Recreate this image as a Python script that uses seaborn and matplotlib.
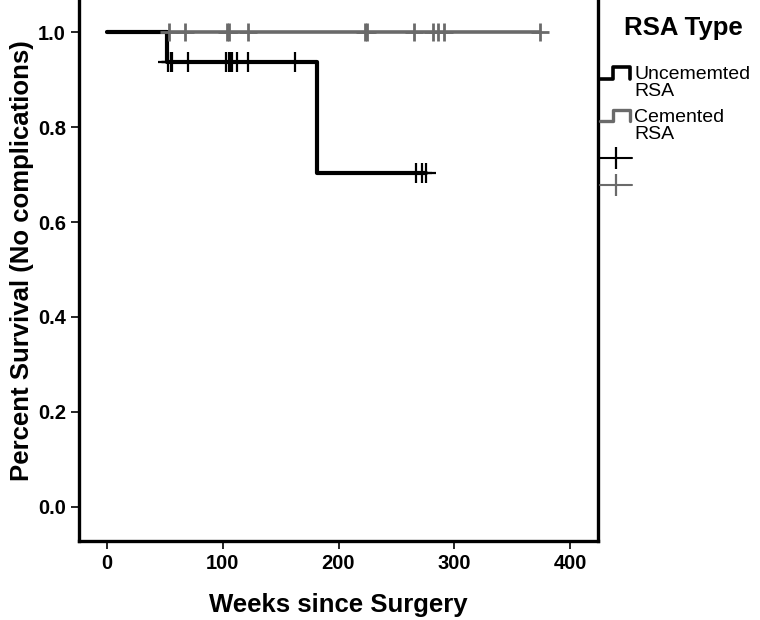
import numpy as np
import pandas as pd
import matplotlib
matplotlib.use("Agg")
import matplotlib.pyplot as plt
import seaborn as sns
from matplotlib.lines import Line2D
from matplotlib.legend_handler import HandlerBase

# Follow-up times (weeks)
uncemented_events = [52, 181]
uncemented_censored = [53, 55, 56.5, 70, 103, 105, 106.5, 108, 112, 122, 162, 267, 272, 276]
cemented_events = []
cemented_censored = [53.5, 67, 103.5, 105, 122, 223, 225, 265, 282, 286, 291, 374]

group_names = ["Uncememted\nRSA", "Cemented\nRSA"]
group_colors = {"Uncememted\nRSA": "#000000", "Cemented\nRSA": "#6a6a6a"}

x_ticks = [0, 100, 200, 300, 400]
y_ticks = [0.0, 0.2, 0.4, 0.6, 0.8, 1.0]


def kaplan_meier(events, censored, group):
    times = sorted(set(events) | set(censored))
    n = len(events) + len(censored)
    s = 1.0
    steps = [(0.0, 1.0)]
    marks = []
    for t in times:
        d = events.count(t)
        c = censored.count(t)
        if d:
            s *= (n - d) / n
            steps.append((t, s))
        for _ in range(c):
            marks.append((t, s))
        n -= d + c
    steps.append((times[-1], s))
    st = pd.DataFrame(steps, columns=["weeks", "survival"])
    st["group"] = group
    mk = pd.DataFrame(marks, columns=["weeks", "survival"])
    mk["group"] = group
    return st, mk


st1, mk1 = kaplan_meier(uncemented_events, uncemented_censored, group_names[0])
st2, mk2 = kaplan_meier(cemented_events, cemented_censored, group_names[1])

sns.set_style("white")
plt.rcParams["font.family"] = ["Liberation Sans", "DejaVu Sans"]
for k in ["text.color", "axes.labelcolor", "xtick.color", "ytick.color"]:
    plt.rcParams[k] = "black"

fig = plt.figure(figsize=(7.6, 6.2), dpi=100)
# top of the frame runs off the top of the image, as in the original
ax = fig.add_axes([79 / 760, 79 / 620, 519 / 760, 560 / 620])

# gray curve first, black on top
sns.lineplot(data=st2, x="weeks", y="survival", color=group_colors[group_names[1]],
             drawstyle="steps-post", estimator=None, sort=False, lw=2.6, ax=ax)
sns.lineplot(data=st1, x="weeks", y="survival", color=group_colors[group_names[0]],
             drawstyle="steps-post", estimator=None, sort=False, lw=3.0, ax=ax)
ax.plot(mk2["weeks"], mk2["survival"], ls="none", marker="+", ms=13.5, mew=2.0,
        color=group_colors[group_names[1]])
ax.plot(mk1["weeks"], mk1["survival"], ls="none", marker="+", ms=15, mew=1.6,
        color=group_colors[group_names[0]])

ax.set_xlim(-24.2, 424.2)
ax.set_ylim(-0.0716, 1.1074)
ax.set_xticks(x_ticks)
ax.set_yticks(y_ticks)
ax.set_yticklabels([f"{v:.1f}" for v in y_ticks])
for sp in ax.spines.values():
    sp.set_visible(True)
    sp.set_color("black")
    sp.set_linewidth(2.4)
ax.tick_params(direction="out", length=6, width=1.2, labelsize=14.5, color="black",
               left=True, bottom=True)
for lab in ax.get_xticklabels() + ax.get_yticklabels():
    lab.set_fontweight("bold")
ax.set_xlabel("Weeks since Surgery", fontsize=18.5, fontweight="bold", labelpad=14)
ax.set_ylabel("Percent Survival (No complications)", fontsize=18.5, fontweight="bold",
              labelpad=3)


class StepHandler(HandlerBase):
    def create_artists(self, legend, orig_handle, xdescent, ydescent, width, height,
                       fontsize, trans):
        base = -ydescent + height * 0.5 + fontsize * 0.5
        lo, hi = base - 4, base + 4
        xs = [-xdescent, 0.4 * width, 0.4 * width, 0.92 * width, 0.92 * width]
        ys = [lo, lo, hi, hi, lo]
        return [Line2D(xs, ys, color=orig_handle.get_color(), lw=orig_handle.get_linewidth(),
                       transform=trans)]


handles = [
    Line2D([], [], color=group_colors[group_names[0]], lw=2.6),
    Line2D([], [], color=group_colors[group_names[1]], lw=2.4),
    Line2D([], [], color=group_colors[group_names[0]], lw=1.5, marker="|", ms=16, mew=1.6),
    Line2D([], [], color=group_colors[group_names[1]], lw=1.5, marker="|", ms=16, mew=1.6),
]
labels = group_names + ["", ""]
hmap = {handles[0]: StepHandler(), handles[1]: StepHandler()}

fig.text(683 / 760, 1 - 28 / 620, "RSA Type", fontsize=18.5, fontweight="bold",
         ha="center", va="center")
leg = fig.legend(handles, labels, handler_map=hmap, loc="upper left",
                 bbox_to_anchor=(600 / 760, 1 - 66 / 620), frameon=False,
                 prop={"size": 14}, handlelength=1.65, handletextpad=0.1,
                 borderpad=0, borderaxespad=0, labelspacing=0.45)
for t in leg.get_texts():
    t.set_linespacing(1.0)

fig.savefig("out.png", dpi=100)
